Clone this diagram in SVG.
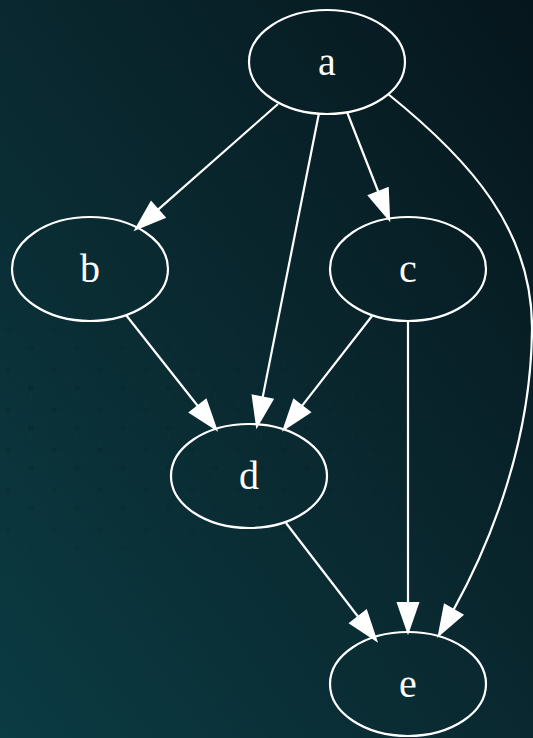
<svg xmlns="http://www.w3.org/2000/svg" width="533" height="738" viewBox="0 0 533 738">
  <defs>
    <linearGradient id="bg" x1="0" y1="1" x2="1" y2="0">
      <stop offset="0" stop-color="#0b3b43"/>
      <stop offset="0.45" stop-color="#0a2a31"/>
      <stop offset="1" stop-color="#06161d"/>
    </linearGradient>
    <pattern id="net" width="46" height="40" patternUnits="userSpaceOnUse">
      <circle cx="8" cy="10" r="2.6" fill="#061c22"/>
      <circle cx="31" cy="28" r="2.6" fill="#061c22"/>
      <path d="M8,10 L31,28 M31,28 L54,10 M8,10 L-15,28 M31,28 L31,68 M8,10 L8,-30" stroke="#0f3e45" stroke-width="0.7" fill="none"/>
    </pattern>
    <linearGradient id="fadeH" x1="0" y1="0" x2="1" y2="0">
      <stop offset="0" stop-color="#fff" stop-opacity="1"/>
      <stop offset="0.7" stop-color="#fff" stop-opacity="0.5"/>
      <stop offset="1" stop-color="#fff" stop-opacity="0"/>
    </linearGradient>
    <linearGradient id="fadeV" x1="0" y1="0" x2="0" y2="1">
      <stop offset="0" stop-color="#fff" stop-opacity="0"/>
      <stop offset="0.4" stop-color="#fff" stop-opacity="1"/>
      <stop offset="0.6" stop-color="#fff" stop-opacity="1"/>
      <stop offset="1" stop-color="#fff" stop-opacity="0"/>
    </linearGradient>
    <mask id="m1">
      <rect x="0" y="280" width="533" height="300" fill="url(#fadeV)"/>
    </mask>
    <mask id="m2">
      <rect x="0" y="280" width="533" height="300" fill="url(#fadeH)"/>
    </mask>
  </defs>
  <style>
    .node ellipse { fill: none; stroke: #ffffff; stroke-width: 2.2; }
    .node text { font-family: "Liberation Serif", "Times New Roman", serif; font-size: 40px; fill: #ffffff; text-anchor: middle; }
    .edge path, .edge line { fill: none; stroke: #ffffff; stroke-width: 2.2; }
    .edge polygon { fill: #ffffff; stroke: #ffffff; stroke-width: 2.2; }
  </style>
  <rect x="0" y="0" width="533" height="738" fill="url(#bg)"/>
  <g mask="url(#m1)" opacity="0.45">
    <rect x="0" y="280" width="533" height="300" fill="url(#net)" mask="url(#m2)"/>
  </g>

  <g id="connectors" class="edge">
    <!-- a -> b -->
    <line x1="278" y1="104" x2="157.8" y2="209.8"/>
    <polygon points="136,229 164.4,217.3 151.2,202.3"/>
    <!-- a -> d -->
    <line x1="319" y1="113" x2="262.6" y2="397.6"/>
    <polygon points="257,426 272.4,399.5 252.8,395.7"/>
    <!-- a -> c -->
    <line x1="347" y1="112" x2="378.4" y2="192"/>
    <polygon points="389,219 387.7,188.3 369.1,195.7"/>
    <!-- a -> e -->
    <path d="M388,94 C470,160 533,230 532,330 C531,440 492,540 453.5,609.9"/>
    <polygon points="439,635 462.2,614.9 444.8,604.9"/>
    <!-- b -> d -->
    <line x1="126" y1="315" x2="198" y2="406.2"/>
    <polygon points="216,429 205.9,400 190.1,412.4"/>
    <!-- c -> d -->
    <line x1="372" y1="316" x2="301.8" y2="406.1"/>
    <polygon points="284,429 309.7,412.2 293.9,400"/>
    <!-- c -> e -->
    <line x1="408" y1="322" x2="408" y2="603"/>
    <polygon points="408,632 418,603 398,603"/>
    <!-- d -> e -->
    <line x1="286" y1="523" x2="358.3" y2="617"/>
    <polygon points="376,640 366.2,610.9 350.4,623.1"/>
  </g>

  <g id="node-a" class="node">
    <ellipse cx="327" cy="62" rx="78" ry="52"/>
    <text x="327" y="75">a</text>
  </g>
  <g id="node-b" class="node">
    <ellipse cx="90" cy="269" rx="78" ry="52"/>
    <text x="90" y="282">b</text>
  </g>
  <g id="node-c" class="node">
    <ellipse cx="408" cy="269" rx="78" ry="52"/>
    <text x="408" y="282">c</text>
  </g>
  <g id="node-d" class="node">
    <ellipse cx="249" cy="476" rx="78" ry="52"/>
    <text x="249" y="489">d</text>
  </g>
  <g id="node-e" class="node">
    <ellipse cx="408" cy="684" rx="78" ry="52"/>
    <text x="408" y="697">e</text>
  </g>
</svg>
